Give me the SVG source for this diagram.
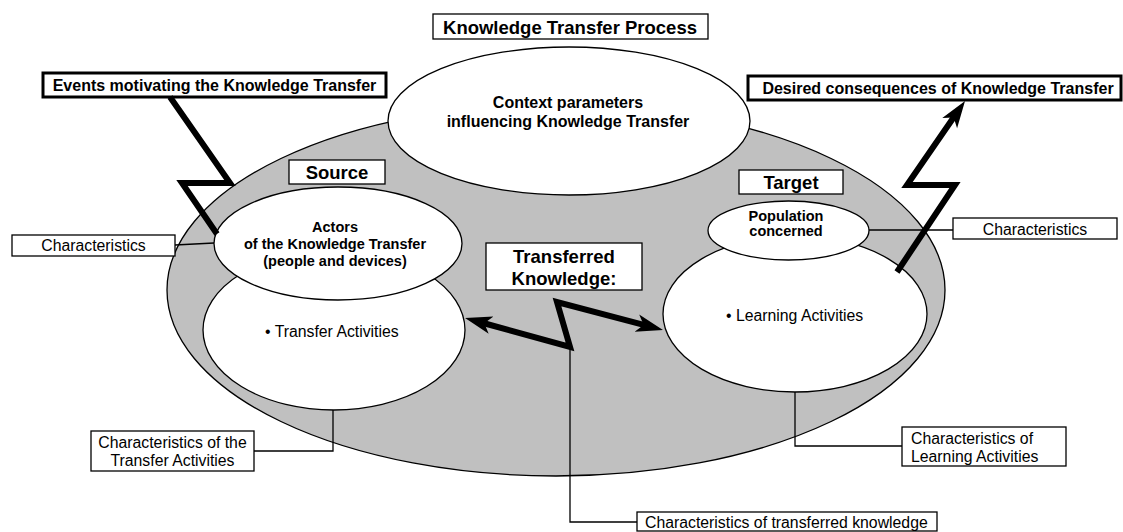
<svg xmlns="http://www.w3.org/2000/svg" width="1123" height="532" viewBox="0 0 1123 532">
<style>
text{font-family:"Liberation Sans",Arial,sans-serif;fill:#000}
.b185{font-size:18.5px;font-weight:bold;text-anchor:middle}
.b16{font-size:16px;font-weight:bold;text-anchor:middle}
.b145{font-size:14.5px;font-weight:bold;text-anchor:middle}
.r{font-size:15.8px}
.rc{font-size:15.8px;text-anchor:middle}
.box{fill:#fff;stroke:#000;stroke-width:1.3}
.tbox{fill:#fff;stroke:#000;stroke-width:3}
.ell{fill:#fff;stroke:#000;stroke-width:1.3}
.thin{fill:none;stroke:#000;stroke-width:1.3}
.zig{fill:none;stroke:#000;stroke-width:6;stroke-linejoin:miter;stroke-miterlimit:10}
</style>
<defs>
<marker id="ah" markerUnits="userSpaceOnUse" markerWidth="40" markerHeight="30" viewBox="0 -15 40 30" refX="12" refY="0" orient="auto-start-reverse">
<path d="M27,0 L0,-9 L7,0 L0,9 Z" fill="#000"/>
</marker>
</defs>

<g id="process">
<ellipse cx="556" cy="290" rx="389" ry="186" fill="#C0C0C0" stroke="#000" stroke-width="1.3"/>
</g>

<g id="title">
<rect class="box" x="433" y="14" width="275" height="25"/>
<text class="b185" x="570" y="33.5">Knowledge Transfer Process</text>
</g>

<g id="context">
<ellipse class="ell" cx="569" cy="121" rx="181" ry="74"/>
<text class="b16" x="568" y="108">Context parameters</text>
<text class="b16" x="568" y="127">influencing Knowledge Transfer</text>
</g>

<g id="events">
<rect class="tbox" x="43" y="73" width="343" height="24"/>
<text class="b16" x="214.5" y="91">Events motivating the Knowledge Transfer</text>
</g>

<g id="consequences">
<rect class="tbox" x="748" y="76" width="373" height="24"/>
<text class="b16" x="938" y="94">Desired consequences of Knowledge Transfer</text>
</g>

<g id="source">
<rect class="box" x="289" y="160" width="96" height="24"/>
<text class="b185" x="337" y="179">Source</text>
</g>

<g id="transfer-activities">
<ellipse class="ell" cx="334" cy="330" rx="131" ry="80"/>
<text class="r" x="265" y="337">• Transfer Activities</text>
</g>

<g id="actors">
<ellipse class="ell" cx="338" cy="243.5" rx="124" ry="56.5"/>
<text class="b145" x="335" y="232">Actors</text>
<text class="b145" x="335" y="249">of the Knowledge Transfer</text>
<text class="b145" x="335" y="266">(people and devices)</text>
</g>

<g id="target">
<rect class="box" x="739" y="170" width="104" height="24"/>
<text class="b185" x="791" y="189">Target</text>
</g>

<g id="learning-activities">
<ellipse class="ell" cx="795" cy="314" rx="132" ry="78"/>
<text class="r" x="726" y="321">• Learning Activities</text>
</g>

<g id="population">
<ellipse class="ell" cx="788.5" cy="230.5" rx="80.5" ry="29.5"/>
<text class="b145" x="786" y="221">Population</text>
<text class="b145" x="786" y="235.5">concerned</text>
</g>

<g id="transferred-knowledge">
<rect class="box" x="486" y="243" width="156" height="47"/>
<text class="b185" x="564" y="263">Transferred</text>
<text class="b185" x="564" y="284.5">Knowledge:</text>
</g>

<g id="char-actors">
<rect class="box" x="12" y="235" width="163" height="21"/>
<text class="rc" x="93.5" y="251">Characteristics</text>
</g>

<g id="char-population">
<rect class="box" x="953" y="218" width="164" height="21"/>
<text class="rc" x="1035" y="234.5">Characteristics</text>
</g>

<g id="char-transfer">
<rect class="box" x="91" y="431" width="163" height="40"/>
<text class="rc" x="172.5" y="447.5">Characteristics of the</text>
<text class="rc" x="172.5" y="465.5">Transfer Activities</text>
</g>

<g id="char-learning">
<rect class="box" x="902" y="427" width="164" height="39"/>
<text class="r" x="911" y="443.5">Characteristics of</text>
<text class="r" x="911" y="461.5">Learning Activities</text>
</g>

<g id="char-knowledge">
<rect class="box" x="637" y="512" width="300" height="19"/>
<text class="r" x="645" y="527.5">Characteristics of transferred knowledge</text>
</g>

<g id="connectors">
<path class="thin" d="M175,245 L214,243"/>
<path class="thin" d="M869,230 L953,230"/>
<path class="thin" d="M254,451 L333,451 L333,410"/>
<path class="thin" d="M795,392 L795,446 L902,446"/>
<path class="thin" d="M570,347 L570,522 L637,522"/>
<path class="zig" d="M170,97 L230,183 L182,183 L217,234"/>
<path class="zig" d="M897,272 L955,185 L907,185 L956.5,113.3" marker-end="url(#ah)"/>
<path class="zig" d="M479.5,322 L570,347 L557,302 L648.5,326.2" marker-start="url(#ah)" marker-end="url(#ah)"/>
</g>
</svg>
